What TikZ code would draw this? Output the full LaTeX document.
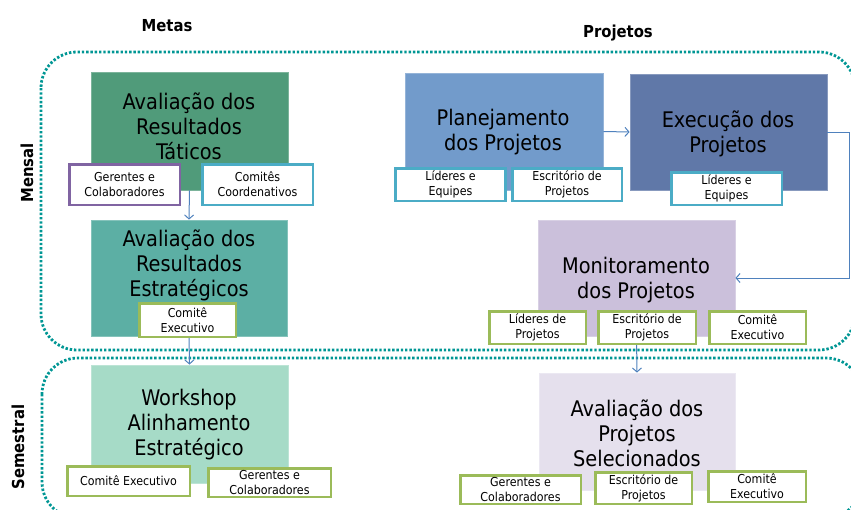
\documentclass[tikz,border=0pt]{standalone}
\usepackage{fontspec}
\setmainfont{DejaVu Sans Condensed}
\usetikzlibrary{arrows.meta}
\definecolor{cA}{RGB}{80,155,122}
\definecolor{cB}{RGB}{92,175,164}
\definecolor{cC}{RGB}{166,219,199}
\definecolor{cP}{RGB}{114,155,203}
\definecolor{cX}{RGB}{96,120,168}
\definecolor{cM}{RGB}{203,192,219}
\definecolor{cS}{RGB}{229,224,237}
\definecolor{bPurple}{RGB}{128,100,162}
\definecolor{bCyan}{RGB}{75,172,198}
\definecolor{bGreen}{RGB}{155,187,89}
\definecolor{arrowblue}{RGB}{79,129,189}
\definecolor{dotteal}{RGB}{0,150,148}
\tikzset{
  mainbox/.style={draw=#1!75!white, line width=0.8pt, fill=#1, inner sep=0pt},
  bigtext/.style={align=center, inner sep=0pt, font=\fontsize{21.5}{25}\selectfont},
  subbox/.style={draw=#1, fill=white, line width=2.5pt, inner sep=0pt, align=center,
    font=\fontsize{12.3}{15}\selectfont},
  title/.style={inner sep=0pt, font=\fontsize{16.5}{19}\selectfont\bfseries},
  flow/.style={draw=arrowblue, line width=1pt, -{Straight Barb[length=4pt,width=9pt]}},
  region/.style={draw=dotteal, line width=2.8pt, dash pattern=on 2.4pt off 1.9pt, rounded corners=36pt}
}
\begin{document}
\begin{tikzpicture}[x=1pt, y=-1pt]
\useasboundingbox (0,0) rectangle (851,509);
% regions
\begin{scope}
\clip (0,0) rectangle (851,509);
\draw[region] (41,52) rectangle (855,350);
\draw[region] (42,358) rectangle (862,518);
\end{scope}
% titles
\node[title] (tMetas) at (167,26) {Metas};
\node[title] (tProj) at (618,33) {Projetos};
\node[title, rotate=90] (tMensal) at (27,173) {Mensal};
\node[title, rotate=90] (tSem) at (18,447) {Semestral};
% main boxes
\node[mainbox=cA, minimum width=197pt, minimum height=118pt] (A) at (189.5,131) {};
\node[mainbox=cB, minimum width=196pt, minimum height=116pt] (B) at (189,278) {};
\node[mainbox=cC, minimum width=197pt, minimum height=118pt] (C) at (189.5,424) {};
\node[mainbox=cP, minimum width=198pt, minimum height=117pt] (P) at (504,131.5) {};
\node[mainbox=cX, minimum width=197pt, minimum height=116pt] (X) at (728.5,132) {};
\node[mainbox=cM, minimum width=197pt, minimum height=116pt] (M) at (636.5,278) {};
\node[mainbox=cS, minimum width=196pt, minimum height=117pt] (S) at (637,431.5) {};
% texts
\node[bigtext] (At) at (189,126) {Avaliação dos\\Resultados\\Táticos};
\node[bigtext] (Bt) at (189,265) {Avaliação dos\\Resultados\\Estratégicos};
\node[bigtext] (Ct) at (189,425) {Workshop\\Alinhamento\\Estratégico};
\node[bigtext] (Pt) at (503,132) {Planejamento\\dos Projetos};
\node[bigtext] (Xt) at (728,133.5) {Execução dos\\Projetos};
\node[bigtext] (Mt) at (636,280) {Monitoramento\\dos Projetos};
\node[bigtext] (St) at (637,433.5) {Avaliação dos\\Projetos\\Selecionados};
% connectors
\draw[flow] (A.south) -- (B.north);
\draw[flow] (B.south) -- (C.north);
\draw[flow] (P.east) -- (X.west);
\draw[flow] (X.east) -- ++(22,0) |- (M.east);
\draw[flow] (M.south) -- (S.north);
% sub boxes
\node[subbox=bPurple, minimum width=110.5pt, minimum height=40.5pt] (g1) at (124.5,184.5) {Gerentes e\\Colaboradores};
\node[subbox=bCyan, minimum width=110.5pt, minimum height=40.5pt] (c1) at (257.5,184.5) {Comitês\\Coordenativos};
\node[subbox=bGreen, minimum width=96.5pt, minimum height=33.5pt] (e1) at (187.5,320) {Comitê\\Executivo};
\node[subbox=bGreen, minimum width=122.5pt, minimum height=29.5pt] (w1) at (128.5,481) {Comitê Executivo};
\node[subbox=bGreen, minimum width=122.5pt, minimum height=28.5pt] (w2) at (269.5,482.5) {Gerentes e\\Colaboradores};
\node[subbox=bCyan, minimum width=110pt, minimum height=32.5pt] (p1) at (450.5,184.5) {Líderes e\\Equipes};
\node[subbox=bCyan, minimum width=109.5pt, minimum height=32.5pt] (p2) at (567,184.5) {Escritório de\\Projetos};
\node[subbox=bCyan, minimum width=110.5pt, minimum height=32.5pt] (x1) at (726.5,188.5) {Líderes e\\Equipes};
\node[subbox=bGreen, minimum width=96.5pt, minimum height=32.5pt] (m1) at (537.5,327.5) {Líderes de\\Projetos};
\node[subbox=bGreen, minimum width=97.5pt, minimum height=32.5pt] (m2) at (647,327.5) {Escritório de\\Projetos};
\node[subbox=bGreen, minimum width=96.5pt, minimum height=32.5pt] (m3) at (757.5,327.5) {Comitê\\Executivo};
\node[subbox=bGreen, minimum width=120.5pt, minimum height=28.5pt] (s1) at (520.5,489.5) {Gerentes e\\Colaboradores};
\node[subbox=bGreen, minimum width=96.5pt, minimum height=31.5pt] (s2) at (643.5,488) {Escritório de\\Projetos};
\node[subbox=bGreen, minimum width=97.5pt, minimum height=30.5pt] (s3) at (757,486.5) {Comitê\\Executivo};
\end{tikzpicture}
\end{document}
